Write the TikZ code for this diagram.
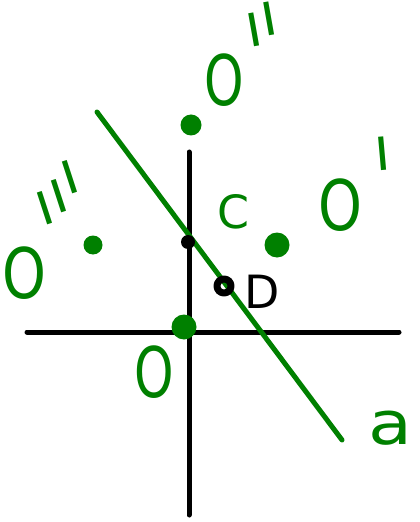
\documentclass[tikz,border=0pt]{standalone}
\usepackage{fontspec}
\usepackage{graphicx}
\newfontfamily\lblfont{DejaVu Sans}
\definecolor{pen}{RGB}{0,128,0}
\begin{document}
\begin{tikzpicture}[x=1bp,y=-1bp,line cap=round,line join=round,
  ax/.style={line width=5bp,draw=black},
  gl/.style={line width=5bp,draw=pen},
  lbl/.style={text=pen,inner sep=0pt,font=\lblfont},
  bigO/.style={lbl,font=\lblfont\fontsize{70}{70}\selectfont},
  prm/.style={lbl,anchor=north,font=\lblfont\fontsize{62}{62}\selectfont},
  gdot/.style={circle,fill=pen,inner sep=0pt},
  bdot/.style={circle,fill=black,inner sep=0pt}]
\useasboundingbox[fill=white] (0,0) rectangle (419,522);
% axes
\coordinate (vt) at (189,152);
\coordinate (vb) at (189,515);
\coordinate (hl) at (27,332);
\coordinate (hr) at (399,332);
\draw[ax] (vt) -- (vb);
\draw[ax] (hl) -- (hr);
% green line
\coordinate (lt) at (97,112);
\coordinate (lb) at (342,440);
\draw[gl] (lt) -- (lb);
% points
\node[gdot,minimum size=21bp] (p2) at (191,125) {};
\node[gdot,minimum size=19bp] (p3) at (93,245) {};
\node[gdot,minimum size=25bp] (p1) at (277,245) {};
\node[gdot,minimum size=25bp] (p0) at (184,327) {};
\node[bdot,minimum size=14bp] (c) at (188,242) {};
\node[circle,draw=black,line width=7bp,minimum size=14bp,inner sep=0pt] (d) at (224,286) {};
% labels
\node[bigO] (O2) at (224,80) {\scalebox{0.72}[1]{O}};
\node[prm,rotate=10] (O2p) at (258,4) {\scalebox{1}[2.0]{\textquotesingle\raisebox{4pt}{\textquotesingle}}};
\node[bigO] (O1) at (340,205) {\scalebox{0.8}[1]{O}};
\node[prm,rotate=5] (O1p) at (381,137) {\scalebox{1}[2.0]{\textquotesingle}};
\node[bigO] (O3) at (24,273) {\scalebox{0.8}[1]{O}};
\node[prm,rotate=18] (O3p) at (49,166) {\scalebox{1}[2.0]{\textquotesingle\raisebox{3.5pt}{\textquotesingle}\raisebox{11pt}{\textquotesingle}}};
\node[bigO] (O0) at (154,372) {\scalebox{0.72}[1]{O}};
\node[lbl,font=\lblfont\fontsize{46}{46}\selectfont] (Cl) at (233,212) {C};
\node[inner sep=0pt,font=\lblfont\fontsize{46}{46}\selectfont] (Dl) at (262,292) {D};
\node[lbl,font=\lblfont\fontsize{60}{60}\selectfont] (al) at (390,428) {\scalebox{1.2}[1]{a}};
\end{tikzpicture}
\end{document}
